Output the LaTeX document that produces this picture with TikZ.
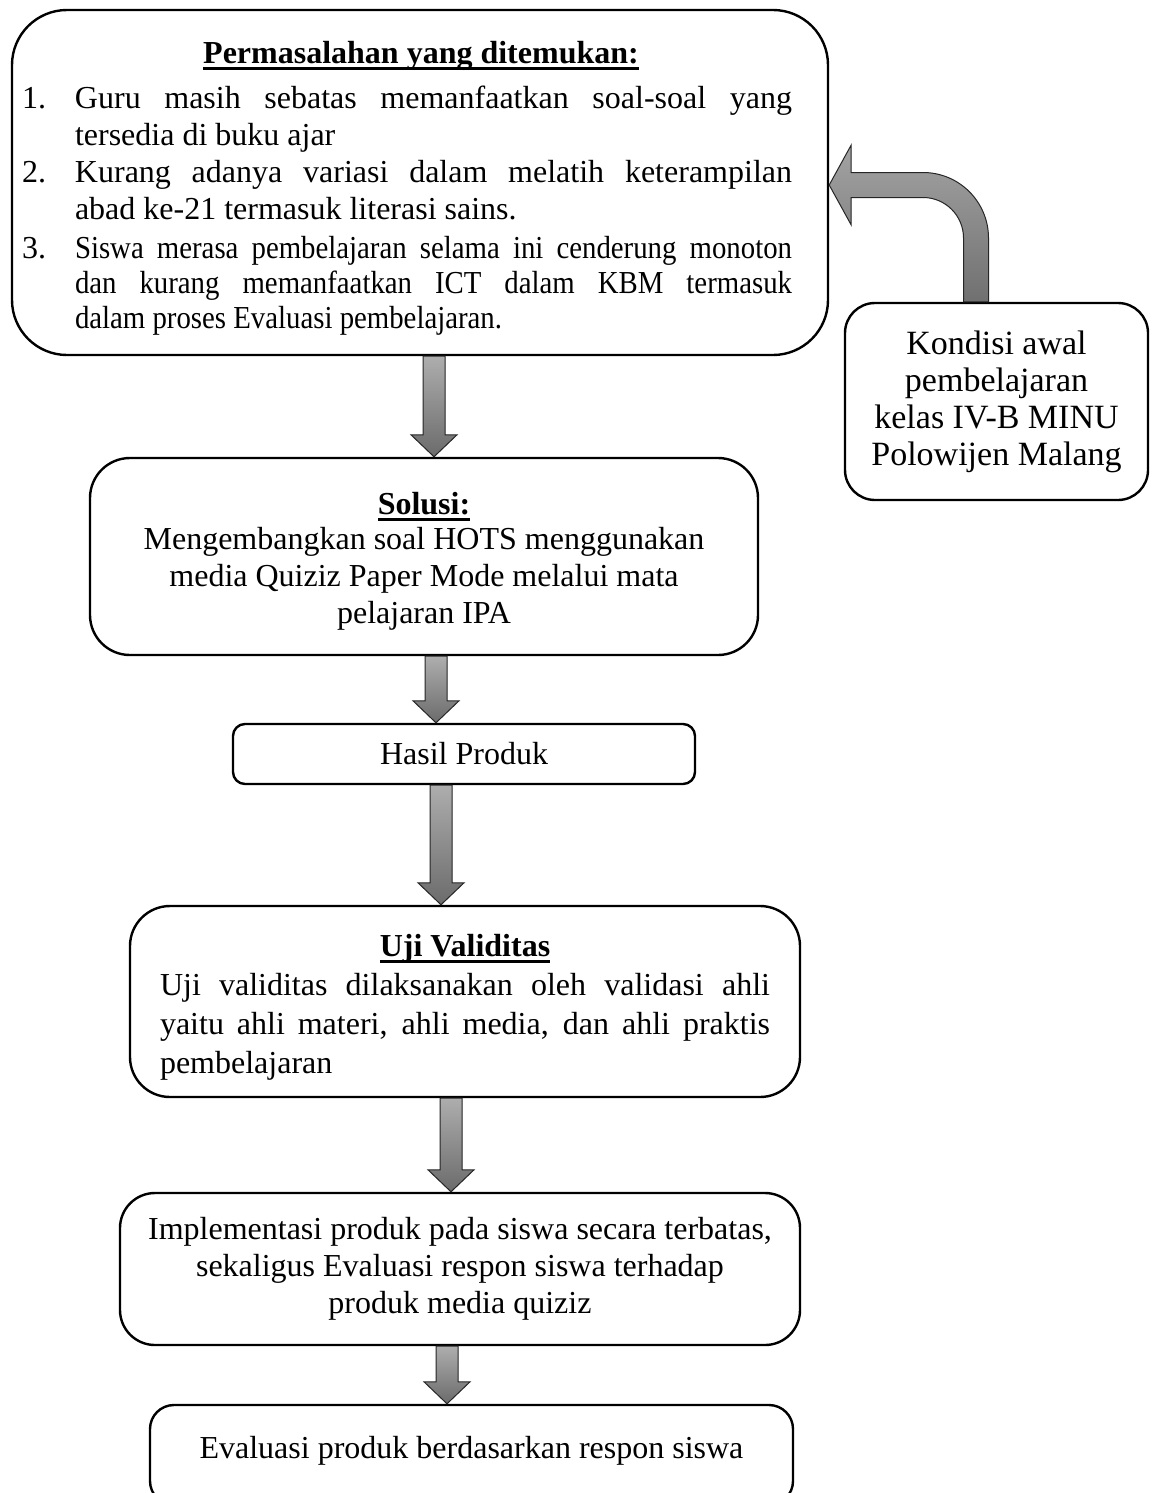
\documentclass[tikz,border=0pt]{standalone}
\usepackage{fontspec}
\setmainfont{Liberation Serif}
\newfontfamily\condfont[FakeStretch=0.9]{Liberation Serif}
\newcommand\thickul[1]{\setbox0\hbox{#1}\rlap{\rule[-3pt]{\wd0}{1.4pt}}\box0}
\usetikzlibrary{calc}
\tikzset{
  box/.style={draw, line width=1.2pt, rounded corners=#1, inner sep=0pt,
    font=\fontsize{16}{18.5}\selectfont},
  box/.default=10pt,
  blockarrow/.style={draw=black!85, line width=0.5pt, top color=black!32, bottom color=black!58},
  curvearrow/.style={draw=black!85, line width=0.5pt, top color=black!36, bottom color=black!56},
}
\newcommand\blockdown[3]{%
  \path[blockarrow] let \p1=(#1.south), \p2=(#2.north), \p3=(#3) in
    (\x3-5.5pt,\y1) -- (\x3+5.5pt,\y1) -- (\x3+5.5pt,\y2+11pt) -- (\x3+11.5pt,\y2+11pt)
    -- (\x3,\y2) -- (\x3-11.5pt,\y2+11pt) -- (\x3-5.5pt,\y2+11pt) -- cycle;}
\begin{document}
\begin{tikzpicture}[x=0.5pt,y=-0.5pt]
\clip (0,0) rectangle (1155,1493);
\fill[white] (0,0) rectangle (1155,1493);

% Problem box
\node[box=27.5pt, minimum width=408pt, minimum height=172.5pt] (prob) at (420,182.5) {%
  \parbox{385pt}{\vspace*{6pt}%
    \makebox[385pt]{\hspace{14pt}\textbf{\thickul{Permasalahan yang ditemukan:}}}\\[4pt]
    \makebox[26.5pt][l]{1.}\makebox[358.5pt][s]{Guru masih sebatas memanfaatkan soal-soal yang}\\
    \hspace*{26.5pt}tersedia di buku ajar\\
    \makebox[26.5pt][l]{2.}\makebox[358.5pt][s]{Kurang adanya variasi dalam melatih keterampilan}\\
    \hspace*{26.5pt}abad ke-21 termasuk literasi sains.\\[1pt]
    \makebox[26.5pt][l]{3.}\makebox[358.5pt][s]{\condfont Siswa merasa pembelajaran selama ini cenderung monoton}\\[-1pt]
    \hspace*{26.5pt}\makebox[358.5pt][s]{\condfont dan kurang memanfaatkan ICT dalam KBM termasuk}\\[-1pt]
    \hspace*{26.5pt}{\condfont dalam proses Evaluasi pembelajaran.}%
  }\kern13pt};

% Initial condition box
\node[box=15pt, minimum width=151.5pt, minimum height=98.5pt, align=center,
  font=\fontsize{17}{18.5}\selectfont] (cond) at (996.5,401.5)
  {Kondisi awal\\pembelajaran\\kelas IV-B MINU\\Polowijen Malang};

% Solution box
\node[box=20pt, minimum width=334pt, minimum height=98.5pt, align=center] (sol) at (424,556.5)
  {\rule{0pt}{16pt}\textbf{\thickul{Solusi:}}\\[-1pt]Mengembangkan soal HOTS menggunakan\\media Quiziz Paper Mode melalui mata\\pelajaran IPA};

% Product
\node[box=6pt, minimum width=231pt, minimum height=30pt] (hasil) at (464,754) {Hasil Produk};

% Validity test
\node[box=20pt, minimum width=335pt, minimum height=95.5pt] (uji) at (465,1001.5) {%
  \parbox{305pt}{\vspace*{6pt}\baselineskip=19.5pt
    \makebox[305pt]{\textbf{\thickul{Uji Validitas}}}\\
    \makebox[305pt][s]{Uji validitas dilaksanakan oleh validasi ahli}\\
    \makebox[305pt][s]{yaitu ahli materi, ahli media, dan ahli praktis}\\
    pembelajaran}};

% Implementation
\node[box=17.5pt, minimum width=340pt, minimum height=76pt, align=center] (impl) at (460,1269)
  {Implementasi produk pada siswa secara terbatas,\\sekaligus Evaluasi respon siswa terhadap\\produk media quiziz};

% Evaluation
\node[box=12pt, minimum width=321.5pt, minimum height=50pt] (eval) at (471.5,1455)
  {\raisebox{7.5pt}{Evaluasi produk berdasarkan respon siswa}};

% arrow x positions
\coordinate (ax1) at (434,0);
\coordinate (ax2) at (436,0);
\coordinate (ax3) at (441,0);
\coordinate (ax4) at (451,0);
\coordinate (ax5) at (447,0);
\blockdown{prob}{sol}{ax1}
\blockdown{sol}{hasil}{ax2}
\blockdown{hasil}{uji}{ax3}
\blockdown{uji}{impl}{ax4}
\blockdown{impl}{eval}{ax5}

% curved arrow from condition box to problem box
\coordinate (tipy) at (0,185);
\coordinate (cx) at (976,0);
\path[curvearrow] let \p1=(prob.east), \p2=(cond.north), \p3=(cx), \p4=(tipy) in
  (\x1,\y4) -- (\x1+11pt,\y4+20pt) -- (\x1+11pt,\y4+6.25pt) -- (\x3-26.5pt,\y4+6.25pt)
  arc[start angle=90, end angle=0, radius=32.75pt]
  -- (\x3+6.25pt,\y2) -- (\x3-6.25pt,\y2) -- (\x3-6.25pt,\y4-26.5pt)
  arc[start angle=0, end angle=90, radius=20.25pt]
  -- (\x1+11pt,\y4-6.25pt) -- (\x1+11pt,\y4-20pt) -- cycle;
\end{tikzpicture}
\end{document}
